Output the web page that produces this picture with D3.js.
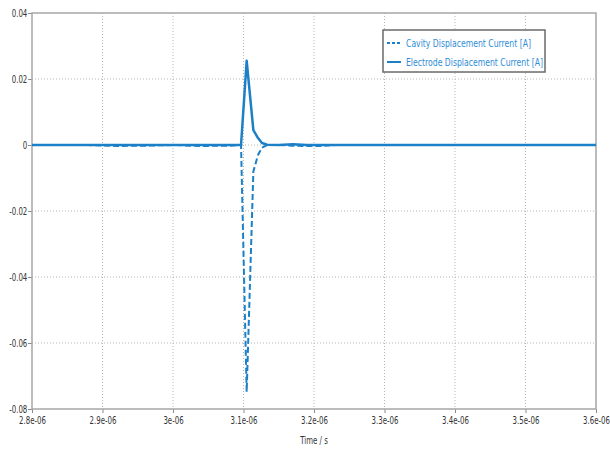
<!DOCTYPE html>
<head>
  <title>Displacement Current</title>
  <meta charset="utf-8">
  <style>
    body { margin: 0; background: #ffffff; }
    /*condensed look for the axis labels*/
    .tickText {
      font-family: 'DejaVu Sans Condensed', 'DejaVu Sans', sans-serif;
      font-size: 10px;
      fill: #333333;
    }
    path.domain { stroke: transparent; }
    .tick line { stroke: #8a8a8a; }
  </style>
</head>

<body style="height:451px; width:610px; margin: 0;">
  <script src="https://cdn.jsdelivr.net/npm/d3@7/dist/d3.min.js"></script>
  <script>
    // time samples (s)
    var time = [2.80e-6, 2.84e-6, 2.88e-6, 2.92e-6, 2.96e-6, 3.00e-6, 3.04e-6, 3.08e-6,
      3.0965e-6, 3.1045e-6, 3.114e-6, 3.1206e-6, 3.1262e-6, 3.1335e-6, 3.15e-6,
      3.17e-6, 3.19e-6, 3.21e-6, 3.23e-6, 3.26e-6, 3.30e-6, 3.35e-6, 3.40e-6,
      3.45e-6, 3.50e-6, 3.55e-6, 3.60e-6];

    // Cavity Displacement Current [A]
    var cavityCurrent = [0, 0, 0, -0.0003, -0.0002, 0, -0.0003, -0.0002,
      0, -0.0748, -0.008, -0.003, -0.0008, 0, 0,
      -0.0002, -0.0003, -0.0003, 0, 0, 0, 0, 0,
      0, 0, 0, 0];

    // Electrode Displacement Current [A]
    var electrodeCurrent = [0, 0, 0, 0, 0, 0, 0, 0,
      0, 0.0255, 0.0045, 0.0021, 0.0006, 0.0001, 0,
      0.0002, 0, 0, 0, 0, 0, 0, 0,
      0, 0, 0, 0];

    var xTicks = [2.8e-6, 2.9e-6, 3.0e-6, 3.1e-6, 3.2e-6, 3.3e-6, 3.4e-6, 3.5e-6, 3.6e-6];
    var xTickLabels = ["2.8e-06", "2.9e-06", "3e-06", "3.1e-06", "3.2e-06", "3.3e-06", "3.4e-06", "3.5e-06", "3.6e-06"];
    var yTicks = [0.04, 0.02, 0, -0.02, -0.04, -0.06, -0.08];
    var yTickLabels = ["0.04", "0.02", "0", "-0.02", "-0.04", "-0.06", "-0.08"];

    var seriesNames = ["Cavity Displacement Current [A]", "Electrode Displacement Current [A]"];

    //set the margin attributes
    var margin = { top: 13, right: 14, bottom: 42, left: 32 },
      width = 564,
      height = 396;

    var lineColor = "#1c80c8";

    var x = d3.scaleLinear().domain([2.8e-6, 3.6e-6]).range([0, width]);
    var y = d3.scaleLinear().domain([-0.08, 0.04]).range([height, 0]);

    var svg = d3.select("body").append("svg")
      .attr("width", 610)
      .attr("height", 451)
      .append("g")
      .attr("transform", "translate(" + margin.left + "," + margin.top + ")");

    //dotted grid lines
    svg.append("g").selectAll("line")
      .data(xTicks.slice(1, -1))
      .enter().append("line")
      .attr("x1", function (d) { return x(d); })
      .attr("x2", function (d) { return x(d); })
      .attr("y1", 0)
      .attr("y2", height)
      .attr("stroke", "#b4b4b4")
      .attr("stroke-dasharray", "1,2");

    svg.append("g").selectAll("line")
      .data(yTicks.slice(1, -1))
      .enter().append("line")
      .attr("x1", 0)
      .attr("x2", width)
      .attr("y1", function (d) { return y(d); })
      .attr("y2", function (d) { return y(d); })
      .attr("stroke", "#b4b4b4")
      .attr("stroke-dasharray", "1,2");

    //axes
    var xAxis = d3.axisBottom(x)
      .tickValues(xTicks)
      .tickSize(4)
      .tickFormat(function (d, i) { return xTickLabels[i]; });

    var yAxis = d3.axisLeft(y)
      .tickValues(yTicks)
      .tickSize(4)
      .tickFormat(function (d, i) { return yTickLabels[i]; });

    svg.append("g")
      .attr("transform", "translate(0," + height + ")")
      .call(xAxis)
      .selectAll("text")
      .attr("class", "tickText")
      .attr("y", 8)
      .attr("transform", "scale(0.78,1)");

    svg.append("g")
      .call(yAxis)
      .selectAll("text")
      .attr("class", "tickText")
      .attr("x", -6)
      .attr("transform", "scale(0.78,1)");

    //frame around the plot
    svg.append("rect")
      .attr("x", 0)
      .attr("y", 0)
      .attr("width", width)
      .attr("height", height)
      .attr("fill", "none")
      .attr("stroke", "#a6a6a6")
      .attr("stroke-width", 1.5);

    var line = d3.line()
      .x(function (d, i) { return x(time[i]); })
      .y(function (d) { return y(d); });

    svg.append("path")
      .datum(cavityCurrent)
      .attr("d", line)
      .attr("fill", "none")
      .attr("stroke", lineColor)
      .attr("stroke-width", 2)
      .attr("stroke-dasharray", "6,3");

    svg.append("path")
      .datum(electrodeCurrent)
      .attr("d", line)
      .attr("fill", "none")
      .attr("stroke", lineColor)
      .attr("stroke-width", 2.5)
      .attr("stroke-linejoin", "round");

    //x axis title
    svg.append("text")
      .attr("class", "tickText")
      .attr("x", width / 2 / 0.78)
      .attr("y", height + 35)
      .attr("text-anchor", "middle")
      .attr("transform", "scale(0.78,1)")
      .text("Time / s");

    //legend
    var legend = svg.append("g")
      .attr("transform", "translate(351,17)");

    legend.append("rect")
      .attr("width", 162)
      .attr("height", 42)
      .attr("fill", "#ffffff")
      .attr("stroke", "#6a6a6a")
      .attr("stroke-width", 1.5);

    // text widths squeezed to fit the box like the original
    var legendTextWidth = [125, 137];

    var items = legend.selectAll(".item")
      .data(seriesNames)
      .enter().append("g")
      .attr("class", "item")
      .attr("transform", function (d, i) { return "translate(4," + (13 + i * 19) + ")"; });

    items.append("line")
      .attr("x1", 0)
      .attr("x2", 14)
      .attr("stroke", lineColor)
      .attr("stroke-width", 2)
      .attr("stroke-dasharray", function (d, i) { return i == 0 ? "3,2" : null; });

    items.append("text")
      .attr("x", 19)
      .attr("y", 4)
      .attr("textLength", function (d, i) { return legendTextWidth[i]; })
      .attr("lengthAdjust", "spacingAndGlyphs")
      .style("font-family", "'DejaVu Sans Condensed', 'DejaVu Sans', sans-serif")
      .style("font-size", "11px")
      .style("fill", "#2e8dd6")
      .text(function (d) { return d; });
  </script>
</body>
